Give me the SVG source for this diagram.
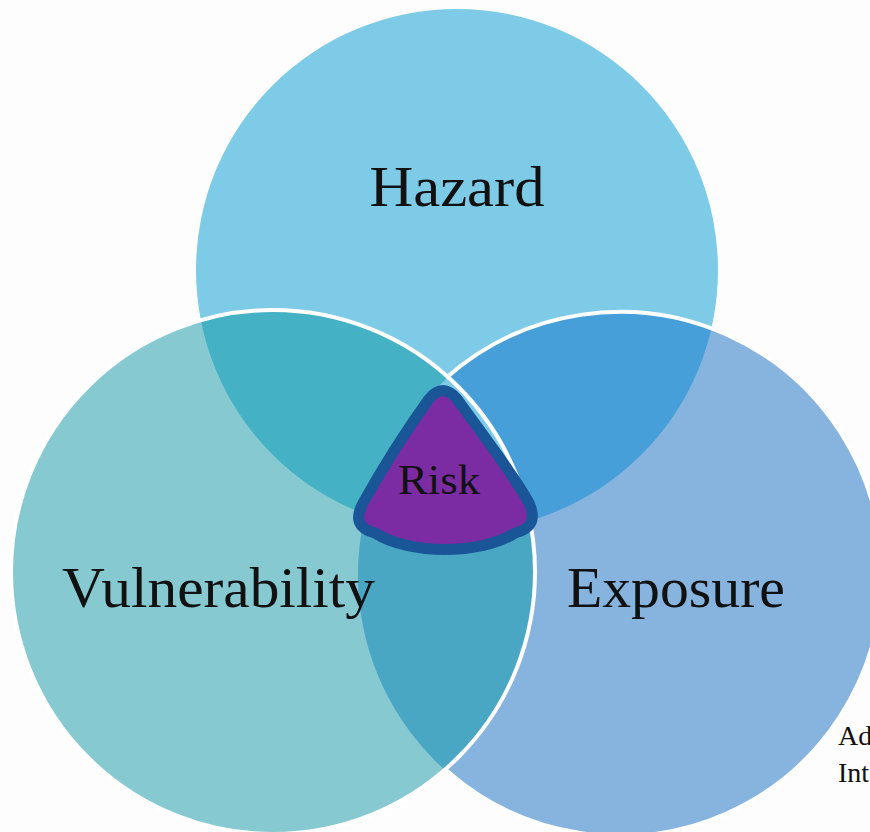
<svg xmlns="http://www.w3.org/2000/svg" width="870" height="832" viewBox="0 0 870 832">
<style>
.lbl{font-family:"Liberation Serif","Times New Roman",serif;fill:#111;}
.big{font-size:56px;}
.edge{fill:none;stroke:#fff;stroke-width:4;}
</style>
<defs>
<clipPath id="cTop"><circle cx="457" cy="270" r="261"/></clipPath>
<clipPath id="cLeft"><circle cx="273" cy="572" r="262"/></clipPath>
<clipPath id="cRight"><circle cx="620" cy="575" r="262"/></clipPath>
</defs>
<rect width="870" height="832" fill="#fdfdfd"/>
<g id="hazard">
<circle cx="457" cy="270" r="261" fill="#7ecbe8"/>
</g>
<g id="vulnerability">
<circle cx="273" cy="572" r="262" fill="#86c9d1"/>
</g>
<g id="exposure">
<circle cx="620" cy="575" r="262" fill="#86b4df"/>
</g>
<g id="overlaps">
<g clip-path="url(#cTop)"><circle cx="273" cy="572" r="262" fill="#45b1c5"/></g>
<g clip-path="url(#cTop)"><circle cx="620" cy="575" r="262" fill="#479fda"/></g>
<g clip-path="url(#cLeft)"><circle cx="620" cy="575" r="262" fill="#49a7c3"/></g>
<g clip-path="url(#cTop)"><g clip-path="url(#cLeft)"><circle cx="620" cy="575" r="262" fill="#7ecbe8"/></g></g>
</g>
<g id="outlines">
<circle class="edge" cx="273" cy="572" r="262"/>
<path class="edge" d="M446,378 A262,262 0 0 1 882,575 A262,262 0 0 1 446,770"/>
</g>
<g id="connectors"></g>
<g id="risk">
<path d="M429,399 Q443,382 457,399 C483,435 516,478 529,503 Q540,527 515,533 C480,555 410,555 375,533 Q350,527 363,503 C377,478 403,435 429,399 Z" fill="#7b2ca3" stroke="#1a5597" stroke-width="11" stroke-linejoin="round"/>
<text class="lbl" x="439" y="494" font-size="42" text-anchor="middle" textLength="82" lengthAdjust="spacingAndGlyphs">Risk</text>
</g>
<g id="labels">
<text class="lbl big" x="457" y="206" text-anchor="middle" textLength="175" lengthAdjust="spacingAndGlyphs">Hazard</text>
<text class="lbl big" x="62" y="607" textLength="313" lengthAdjust="spacingAndGlyphs">Vulnerability</text>
<text class="lbl big" x="567" y="607" textLength="218" lengthAdjust="spacingAndGlyphs">Exposure</text>
</g>
<g id="note">
<text class="lbl" x="838" y="745" font-size="28">Ad</text>
<text class="lbl" x="838" y="782" font-size="28">Int</text>
</g>
</svg>
